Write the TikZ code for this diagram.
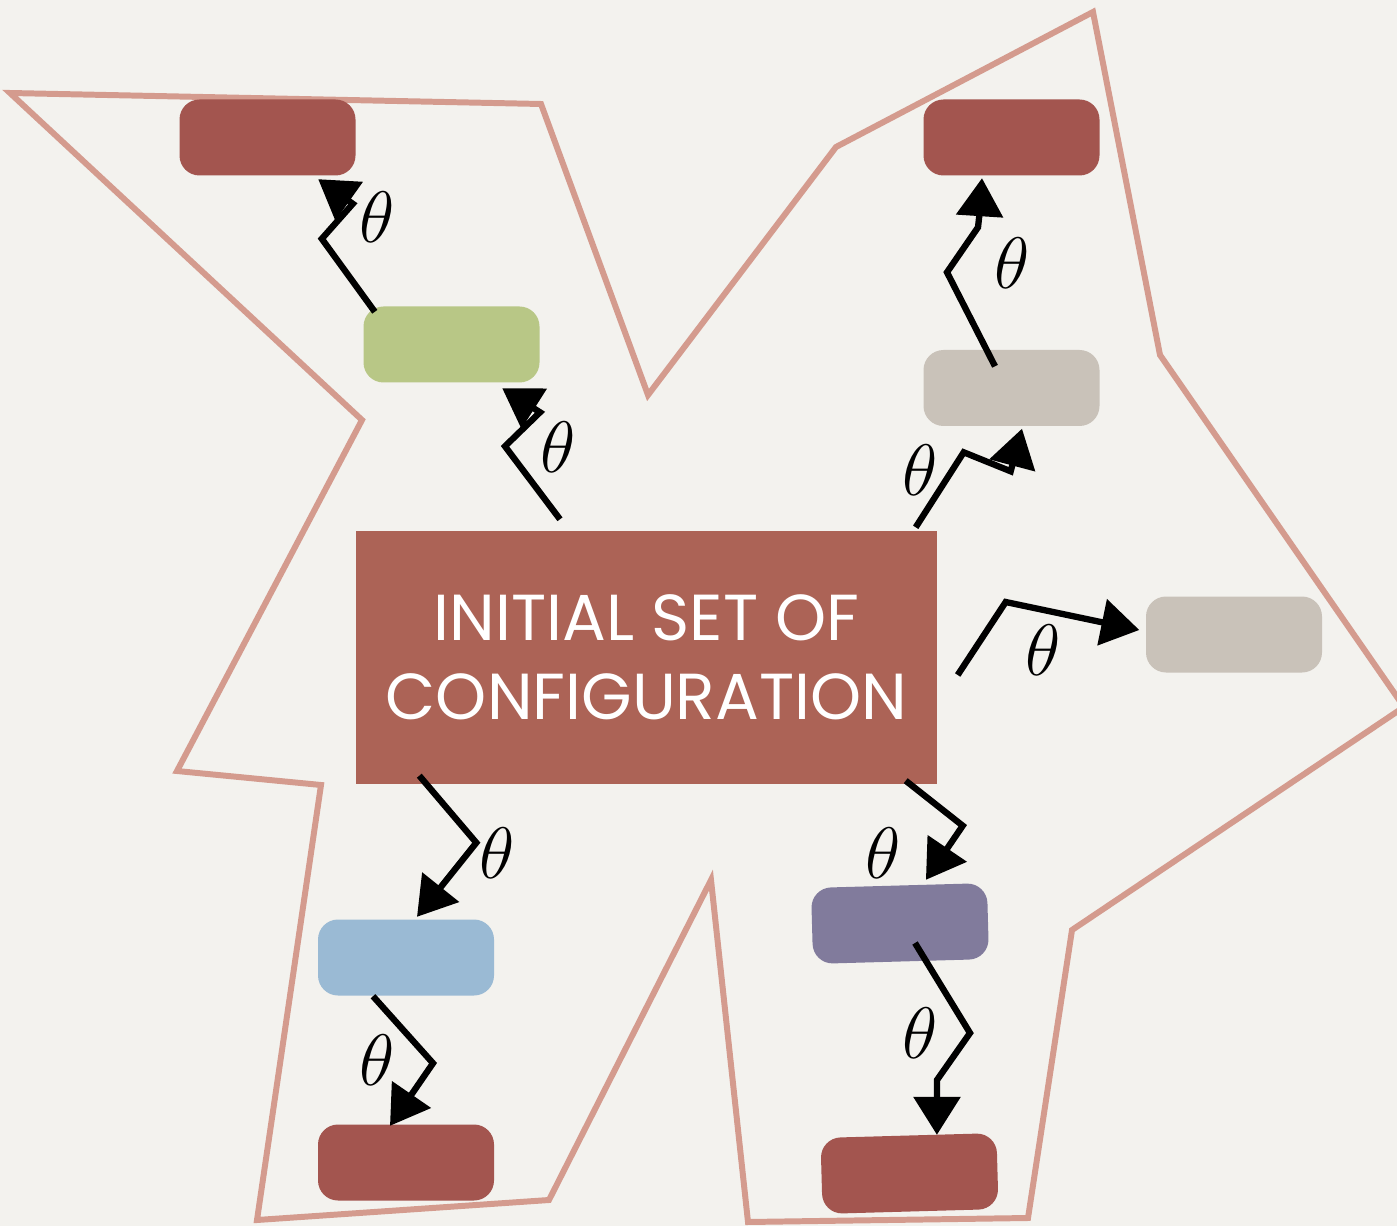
\documentclass[tikz,border=0pt]{standalone}
\usepackage{fontspec}
\usepackage{tikz}
\usetikzlibrary{arrows.meta, positioning}
\newfontfamily\futura{Poppins}
\definecolor{cfgPaper}{HTML}{F3F2EE}
\definecolor{cfgOutline}{HTML}{D49B8E}
\definecolor{cfgRed}{HTML}{AC6356}
\definecolor{cfgDark}{HTML}{A3554F}
\definecolor{cfgGreen}{HTML}{B8C786}
\definecolor{cfgGray}{HTML}{C9C2B9}
\definecolor{cfgBlue}{HTML}{9ABAD4}
\definecolor{cfgPurple}{HTML}{817B9C}

\begin{document}
\begin{tikzpicture}[
    config/.style={rectangle, fill=cfgRed, text=white, minimum width=5.81cm, minimum height=2.53cm, align=center, font=\futura\fontsize{18.5}{22.5}\selectfont},
    state/.style={rectangle, rounded corners=0.2cm, minimum width=1.76cm, minimum height=0.76cm, inner sep=0pt},
    zap/.style={-{Triangle[length=0.38cm, width=0.46cm]}, line width=1.8pt, black},
    lbl/.style={font=\fontsize{21}{21}\selectfont, inner sep=0pt},
    outline/.style={draw=cfgOutline, line width=1.7pt}
]
\clip (0,0) rectangle (13.97,12.26);
\fill[cfgPaper] (0,0) rectangle (13.97,12.26);
% the cloud of reachable configurations
\draw[outline] (0.10,11.33) -- (5.41,11.22) -- (6.48,8.31) -- (8.36,10.79) -- (10.93,12.14) -- (11.60,8.71) -- (14.04,5.19) -- (10.72,2.96) -- (10.28,0.08) -- (7.48,0.04) -- (7.11,3.46) -- (5.49,0.26) -- (2.57,0.06) -- (3.21,4.41) -- (1.77,4.55) -- (3.62,8.06) -- cycle;

\node[config] (init) at (6.465,5.685) {INITIAL SET OF\\ CONFIGURATION};
\node[state, fill=cfgDark] (tl) at (2.675,10.885) {};
\node[state, fill=cfgGreen] (green) at (4.515,8.815) {};
\node[state, fill=cfgDark] (tr) at (10.115,10.885) {};
\node[state, fill=cfgGray] (grayup) at (10.115,8.38) {};
\node[state, fill=cfgGray] (grayright) at (12.34,5.915) {};
\node[state, fill=cfgBlue] (blue) at (4.06,2.685) {};
\node[state, fill=cfgDark] (bl) at (4.06,0.635) {};
\node[state, fill=cfgPurple, rotate=1.6] (purple) at (9.00,3.025) {};
\node[state, fill=cfgDark, rotate=1.6] (br) at (9.095,0.525) {};

% theta steps
\draw[zap] ([shift={(-0.865,0.11)}]init.north) -- ++(-0.55,0.73) -- ++(0.35,0.34) -- ([shift={(-0.38,-0.05)}]green.south east);
\draw[zap] ([shift={(0.12,-0.06)}]green.north west) -- ++(-0.53,0.73) -- ++(0.31,0.35) -- ([shift={(-0.38,-0.03)}]tl.south east);
\draw[zap] ([shift={(-0.22,0.03)}]init.north east) -- ++(0.48,0.75) -- ++(0.47,-0.19) -- ([shift={(0.105,-0.02)}]grayup.south);
\draw[zap] ([shift={(-0.165,-0.17)}]grayup.north) -- ++(-0.48,0.94) -- ++(0.31,0.45) -- ++(0.02,0.18) -- ([shift={(-0.295,-0.02)}]tr.south);
\draw[zap] ([shift={(0.2,-0.175)}]init.east) -- ++(0.48,0.73) -- ++(0.95,-0.20) -- ([shift={(-0.06,0.045)}]grayright.west);
\draw[zap] ([shift={(0.64,0.09)}]init.south west) -- ++(0.57,-0.67) -- ([shift={(0.11,0.02)}]blue.north);
\draw[zap] ([xshift=-0.33cm]blue.south) -- ++(0.60,-0.67) -- ([shift={(-0.16,-0.02)}]bl.north);
\draw[zap] ([shift={(-0.32,0.04)}]init.south east) -- ++(0.57,-0.45) -- ([shift={(0.27,0.05)}]purple.north);
\draw[zap] ([shift={(0.15,-0.195)}]purple.center) -- ++(0.55,-0.90) -- ++(-0.33,-0.47) -- ([shift={(0.285,0)}]br.north);

\node[lbl] (t1) at (5.58,7.79) {$\theta$};
\node[lbl] (t2) at (3.77,10.09) {$\theta$};
\node[lbl] (t3) at (9.20,7.56) {$\theta$};
\node[lbl] (t4) at (10.12,9.63) {$\theta$};
\node[lbl] (t5) at (10.43,5.76) {$\theta$};
\node[lbl] (t6) at (4.97,3.73) {$\theta$};
\node[lbl] (t7) at (3.77,1.66) {$\theta$};
\node[lbl] (t8) at (8.83,3.73) {$\theta$};
\node[lbl] (t9) at (9.20,1.93) {$\theta$};
\end{tikzpicture}
\end{document}
